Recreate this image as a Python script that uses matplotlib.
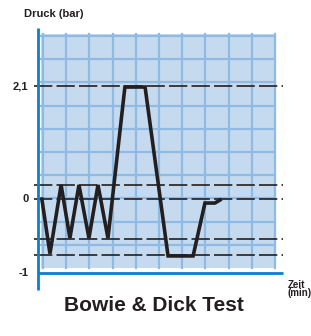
import matplotlib.pyplot as plt
from matplotlib.patches import Rectangle

plt.rcParams['font.family'] = ['Liberation Sans', 'DejaVu Sans']

# schematic curve, in grid units (10 x 10 grid)
zeit = [-0.05, 0.30, 0.78, 1.16, 1.55, 1.98, 2.37, 2.80, 3.53, 4.40,
        5.39, 6.47, 6.98, 7.41, 7.63]
druck = [2.97, 0.62, 3.58, 1.29, 3.58, 1.29, 3.58, 1.29, 7.80, 7.80,
         0.52, 0.52, 2.80, 2.80, 2.93]

# dashed reference levels
levels = [7.84, 3.58, 2.97, 1.25, 0.56]
tick_pos = [7.84, 2.97, -0.22]
tick_labels = ['2,1', '0', '-1']

W, H = 311, 336
fig = plt.figure(figsize=(W / 100, H / 100), dpi=100)
ax = fig.add_axes([43 / W, (H - 268) / H, 232 / W, 232 / H])
ax.set_xlim(0, 10)
ax.set_ylim(0, 10)
ax.axis('off')

grid_fill = '#c6daef'
grid_line = '#8fbae4'
blue = '#0a7fcf'
ink = '#231f20'

ax.add_patch(Rectangle((-0.07, 0), 10.07, 10.07, facecolor=grid_fill,
                       edgecolor='none', clip_on=False, zorder=0))
for i in range(11):
    ax.plot([i, i], [0, 10.07], color=grid_line, lw=1.6, clip_on=False, zorder=1)
for j in range(1, 11):
    ax.plot([-0.07, 10], [j, j], color=grid_line, lw=1.6, clip_on=False, zorder=1)

for lv in levels:
    ax.plot([-0.39, 10.34], [lv, lv], color=ink, lw=1.2, clip_on=False,
            dashes=(11, 2.5), zorder=2)

# blue axes
ax.plot([-0.22, -0.22], [-0.95, 10.34], color=blue, lw=2, clip_on=False,
        solid_capstyle='butt', zorder=3)
ax.plot([-0.22, 10.34], [-0.22, -0.22], color=blue, lw=2, clip_on=False,
        solid_capstyle='butt', zorder=3)

ax.plot(zeit, druck, color=ink, lw=2.6, clip_on=False,
        solid_joinstyle='miter', zorder=4)

for p, lab in zip(tick_pos, tick_labels):
    ax.text(-0.62, p, lab, ha='right', va='center', fontsize=8,
            fontweight='bold', color=ink)

ax.text(-0.82, 10.95, 'Druck (bar)', ha='left', va='center', fontsize=8,
        fontweight='bold', color=ink)
ax.text(4.78, -1.6, 'Bowie & Dick Test', ha='center', va='center',
        fontsize=15, fontweight='bold', color=ink)
ax.text(10.56, -0.9, 'Zeit\n(min)', ha='left', va='center', fontsize=7,
        fontweight='bold', color=ink, linespacing=0.75)

fig.savefig('out.png', dpi=100)
